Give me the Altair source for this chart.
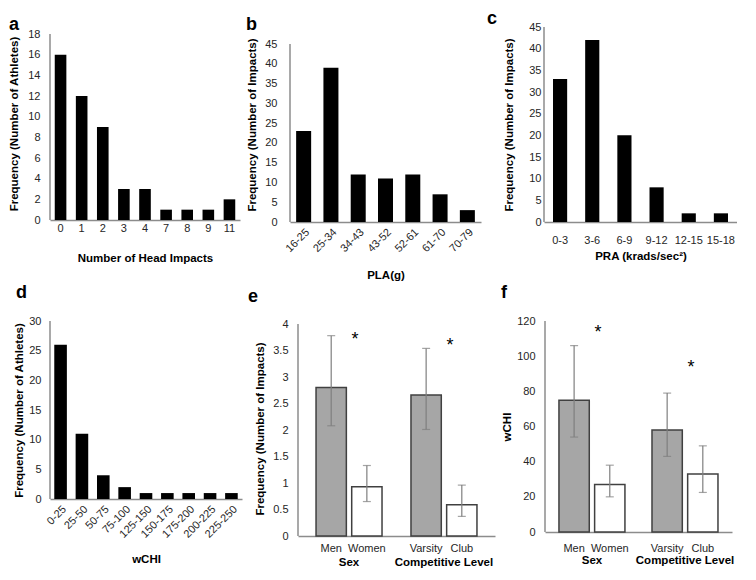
import altair as alt
import pandas as pd

FONT = "Liberation Sans"
AXIS_GRAY = "#8c8c8c"
LABEL = "#262626"

# ---- panel a
a_cats = ["0", "1", "2", "3", "4", "7", "8", "9", "11"]
a_vals = [16, 12, 9, 3, 3, 1, 1, 1, 2]
# ---- panel b
b_cats = ["16-25", "25-34", "34-43", "43-52", "52-61", "61-70", "70-79"]
b_vals = [23, 39, 12, 11, 12, 7, 3]
# ---- panel c
c_cats = ["0-3", "3-6", "6-9", "9-12", "12-15", "15-18"]
c_vals = [33, 42, 20, 8, 2, 2]
# ---- panel d
d_cats = ["0-25", "25-50", "50-75", "75-100", "125-150", "150-175", "175-200", "200-225", "225-250"]
d_vals = [26, 11, 4, 2, 1, 1, 1, 1, 1]
# ---- panels e, f
group_order = ["Sex", "Competitive Level"]
groups = ["Sex", "Sex", "Competitive Level", "Competitive Level"]
subs = ["Men", "Women", "Varsity", "Club"]
slots = ["1", "2", "1", "2"]
e_mean = [2.80, 0.93, 2.66, 0.59]
e_lo = [2.08, 0.65, 2.01, 0.37]
e_hi = [3.78, 1.33, 3.54, 0.96]
f_mean = [75, 27, 58, 33]
f_lo = [54, 20, 43, 22.5]
f_hi = [106, 38, 79, 49]
star_groups = ["Sex", "Competitive Level"]
e_star = [3.80, 3.68]
f_star = [116, 96]


def letter_title(letter, dx, offset):
    return alt.TitleParams(letter, anchor="start", frame="group", dx=dx, offset=offset)


def y_line(tmax, yscale, yax):
    # y axis line drawn from 0 up to the top tick only
    line_df = pd.DataFrame({"y0": [0], "y1": [tmax]})
    return alt.Chart(line_df).mark_rule(color=AXIS_GRAY, strokeWidth=1.5).encode(
        x=alt.value(0), y=alt.Y("y0:Q", scale=yscale, axis=yax), y2="y1:Q")


def hist(cats, vals, dmax, tmax, ystep, xtitle, ytitle, w, h, pi, po, angle,
         letter, dx, offset, ylp, ytp, xlp, xtp):
    df = pd.DataFrame({"cat": cats, "val": vals})
    yscale = alt.Scale(domain=[0, dmax], nice=False)
    yax = alt.Axis(title=ytitle, values=list(range(0, tmax + 1, ystep)),
                   labelPadding=ylp, titlePadding=ytp, domain=False, labelOverlap=False)
    bars = alt.Chart(df).mark_bar(color="black").encode(
        x=alt.X("cat:N", sort=cats,
                scale=alt.Scale(paddingInner=pi, paddingOuter=po),
                axis=alt.Axis(title=xtitle, labelAngle=angle, labelPadding=xlp,
                              titlePadding=xtp)),
        y=alt.Y("val:Q", scale=yscale, axis=yax),
    )
    return alt.layer(bars, y_line(tmax, yscale, yax)).properties(
        width=w, height=h, title=letter_title(letter, dx, offset))


def grouped(mean, lo, hi, stars, dmax, tmax, ystep, fmt, ytitle, w, h, pi, po,
            letter, dx, offset, ylp, ytp, glp, sub_gap):
    df = pd.DataFrame({"group": groups, "label": subs, "slot": slots,
                       "mean": mean, "lo": lo, "hi": hi})
    sdf = pd.DataFrame({"group": star_groups, "star": stars, "t": ["*", "*"]})
    xenc = alt.X("group:N", sort=group_order,
                 scale=alt.Scale(paddingInner=pi, paddingOuter=po),
                 axis=alt.Axis(title=None, labelAngle=0, labelFontWeight="bold",
                               labelFontSize=11.5, labelColor="black", labelPadding=glp))
    xoff = alt.XOffset("slot:N", sort=["1", "2"],
                       scale=alt.Scale(paddingInner=0.15, paddingOuter=0))
    yscale = alt.Scale(domain=[0, dmax], nice=False)
    vals = [round(v * ystep, 2) for v in range(0, int(round(tmax / ystep)) + 1)]
    yax = alt.Axis(title=ytitle, values=vals, format=fmt, domain=False,
                   labelPadding=ylp, titlePadding=ytp, labelOverlap=False)
    base = alt.Chart(df)
    bars = base.mark_bar(stroke="#404040", strokeWidth=1.5).encode(
        x=xenc, xOffset=xoff,
        y=alt.Y("mean:Q", scale=yscale, axis=yax),
        fill=alt.Fill("slot:N", scale=alt.Scale(domain=["1", "2"],
                                                range=["#a6a6a6", "#ffffff"]),
                      legend=None),
    )
    rules = base.mark_rule(color="#7f7f7f", strokeWidth=1.2).encode(
        x=xenc, xOffset=xoff, y=alt.Y("lo:Q", scale=yscale, axis=yax), y2="hi:Q")
    cap_lo = base.mark_tick(color="#7f7f7f", size=8, thickness=1.2).encode(
        x=xenc, xOffset=xoff, y=alt.Y("lo:Q", scale=yscale, axis=yax))
    cap_hi = base.mark_tick(color="#7f7f7f", size=8, thickness=1.2).encode(
        x=xenc, xOffset=xoff, y=alt.Y("hi:Q", scale=yscale, axis=yax))
    labels = base.mark_text(baseline="top", fontSize=11, font=FONT, color=LABEL).encode(
        x=xenc, xOffset=xoff, y=alt.value(h + sub_gap), text="label:N")
    star = alt.Chart(sdf).mark_text(fontSize=18, font=FONT, dx=6, dy=5,
                                    baseline="middle", color="black").encode(
        x=xenc, y=alt.Y("star:Q", scale=yscale, axis=yax), text="t:N")
    return alt.layer(bars, rules, cap_lo, cap_hi, labels, star,
                     y_line(tmax, yscale, yax)).properties(
        width=w, height=h, title=letter_title(letter, dx, offset))


# top row: common plot top, domains stretched so the axis scale matches
pa = hist(a_cats, a_vals, 18 * 193 / 186, 18, 2, "Number of Head Impacts",
          "Frequency (Number of Athletes)", 190, 193, 0.45, 0.225, 0,
          "a", -41, -7, 10, 8, 2, 19)
pb = hist(b_cats, b_vals, 45 * 195 / 178, 45, 5, "PLA(g)", "Frequency (Number of Impacts)",
          191, 195, 0.45, 0.225, -45, "b", -44, -7, 13, 7, 4, 16)
pc = hist(c_cats, c_vals, 45, 45, 5, "PRA (krads/sec²)", "Frequency (Number of Impacts)",
          193, 195, 0.56, 0.28, 0, "c", -57, -7, 3, 14, 12, 5)
pd_ = hist(d_cats, d_vals, 30, 30, 5, "wCHI", "Frequency (Number of Athletes)",
           192, 178, 0.41, 0.2, -45, "d", -34, 13, 9, 4, 4, 14)
pe = grouped(e_mean, e_lo, e_hi, e_star, 4 * 215 / 212, 4, 0.5, ".1~f",
             "Frequency (Number of Impacts)", 197, 215, 0.305, 0.19,
             "e", -50, 12, 10, 7, 20, 7)
pf = grouped(f_mean, f_lo, f_hi, f_star, 120, 120, 20, "d", "wCHI",
             187, 211, 0.29, 0.15, "f", -44, 13, 10, 4, 22, 11)

row1 = alt.hconcat(pa, pb, pc, spacing=6)
row2 = alt.hconcat(pd_, pe, pf, spacing=6)

chart = alt.vconcat(row1, row2, spacing=2).properties(
    padding={"top": 2, "left": 0, "right": 0, "bottom": 0}
).configure_view(stroke=None).configure_axis(
    domainColor=AXIS_GRAY, domainWidth=1.5, ticks=False, grid=False,
    labelFont=FONT, labelFontSize=11, labelColor=LABEL,
    titleFont=FONT, titleFontSize=11.5, titleFontWeight="bold", titleColor="black",
).configure_title(font=FONT, fontSize=18, fontWeight="bold", color="black")

chart.save("out.html", embed_options={"renderer": "svg", "actions": False})
